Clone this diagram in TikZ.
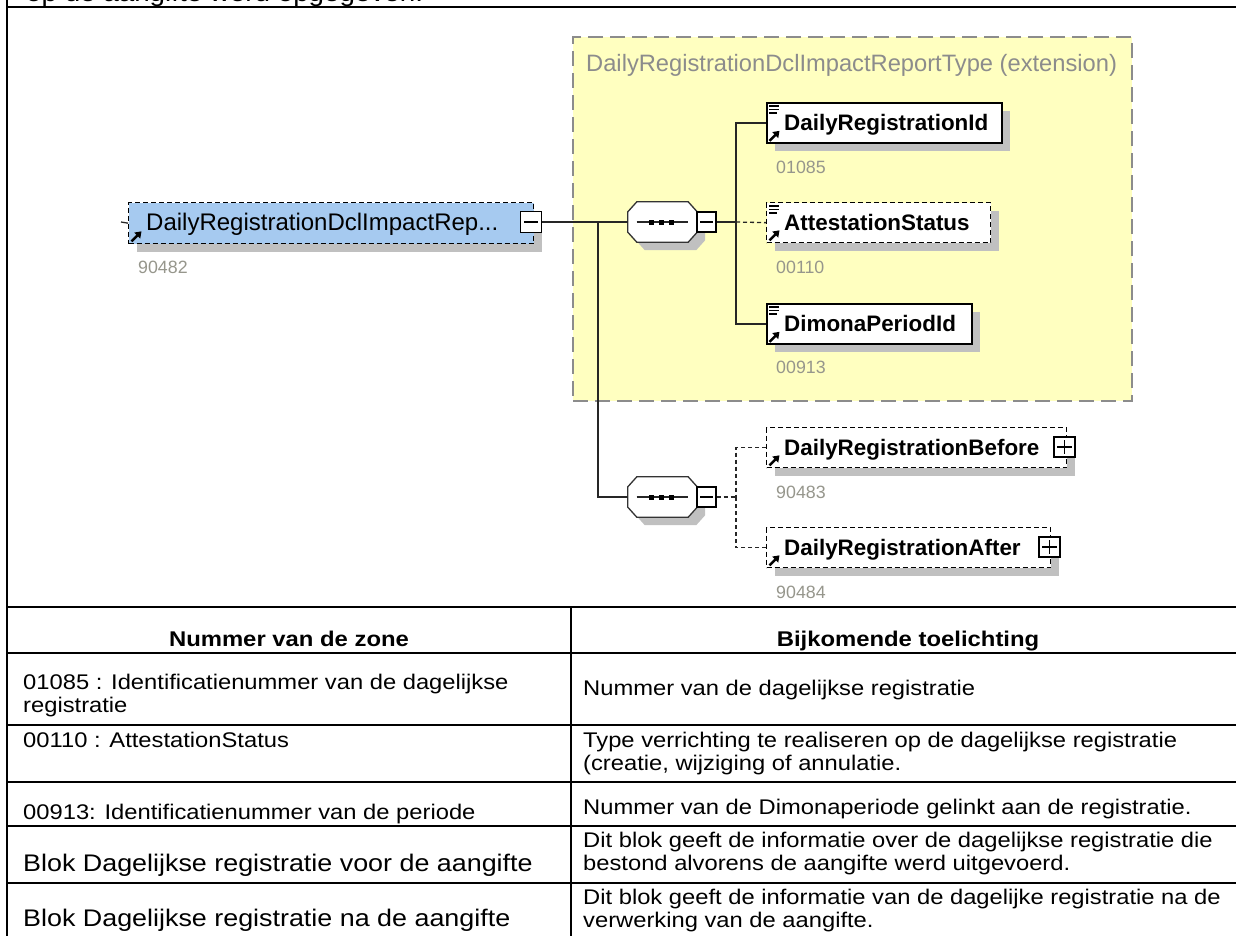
\documentclass[tikz,border=0pt]{standalone}
\usepackage{fontspec}
\setmainfont{Liberation Sans}
\newfontfamily\tabfont[FakeStretch=1.12]{Liberation Sans}
\usetikzlibrary{calc,arrows.meta}
\definecolor{mainblue}{RGB}{166,202,240}
\definecolor{extyellow}{RGB}{255,255,192}
\definecolor{extborder}{RGB}{140,140,140}
\definecolor{shadowgray}{RGB}{192,192,192}
\definecolor{idgray}{RGB}{150,150,140}
\definecolor{titlegray}{RGB}{140,140,140}
\tikzset{
  shad/.style={preaction={fill=shadowgray,draw=none,transform canvas={shift={(8pt,-8pt)}}}},
  box/.style={rectangle,inner sep=0pt,anchor=north west},
  mand/.style={box,draw=black,line width=1.8pt,fill=white,shad},
  opt/.style={box,draw=black,line width=1.3pt,dash pattern=on 5pt off 3pt,fill=white,shad},
  mainbox/.style={box,draw=black,line width=1.3pt,dash pattern=on 5pt off 3pt,fill=mainblue,shad},
  tog/.style={rectangle,draw=black,line width=1.3pt,fill=white,minimum width=19pt,minimum height=20pt,inner sep=0pt},
  togsign/.style={line width=1.3pt,draw=black},
  seqshape/.style={rectangle,draw=none,minimum width=69pt,minimum height=40pt,inner sep=0pt},
  octline/.style={fill=white,draw=black!80,line width=1.3pt},
  conn/.style={line width=1.3pt,draw=black!85},
  optconn/.style={conn,dash pattern=on 4pt off 3pt},
  extbox/.style={box,fill=extyellow,draw=extborder,line width=2pt,dash pattern=on 15pt off 7pt},
  iconline/.style={line width=1.1pt,draw=black},
  refarr/.style={line width=2.4pt,draw=black,-{Triangle[length=6pt,width=8pt]}},
  lbl/.style={font=\fontsize{24}{28}\selectfont,inner sep=0pt,anchor=base west},
  blbl/.style={font=\bfseries\fontsize{22.4}{26}\selectfont,inner sep=0pt,anchor=base west},
  idl/.style={font=\fontsize{17.8}{20}\selectfont,text=idgray,inner sep=0pt,anchor=base west},
  ttl/.style={font=\fontsize{23.7}{27}\selectfont,text=titlegray,inner sep=0pt,anchor=base west},
  tabtxt/.style={font=\tabfont\fontsize{21.2}{24}\selectfont,inner sep=0pt,anchor=base west},
  tabbig/.style={font=\tabfont\fontsize{24}{27}\selectfont,inner sep=0pt,anchor=base west},
  tabhd/.style={font=\tabfont\bfseries\fontsize{21.3}{24}\selectfont,inner sep=0pt,anchor=base},
  toptxt/.style={font=\tabfont\fontsize{24.8}{28}\selectfont,inner sep=0pt,anchor=base west},
  tabline/.style={line width=2pt,draw=black}
}
\newcommand\octo[1]{%
  \fill[shadowgray] ($(#1.north west)+(17,8)$) -- ($(#1.north east)+(-1,8)$) -- ($(#1.north east)+(8,18)$) -- ($(#1.south east)+(8,-2)$) -- ($(#1.south east)+(-1,8)$) -- ($(#1.south west)+(17,8)$) -- ($(#1.south west)+(8,-2)$) -- ($(#1.north west)+(8,18)$) -- cycle;
  \draw[octline] ($(#1.north west)+(9,0)$) -- ($(#1.north east)+(-9,0)$) -- ($(#1.north east)+(0,10)$) -- ($(#1.south east)+(0,-10)$) -- ($(#1.south east)+(-9,0)$) -- ($(#1.south west)+(9,0)$) -- ($(#1.south west)+(0,-10)$) -- ($(#1.north west)+(0,10)$) -- cycle;
  \draw[conn] ($(#1.center)+(-26,0)$) -- ($(#1.center)+(25,0)$);
  \foreach \dx in {-11,-1,9} {\fill ($(#1.center)+(\dx,0)$) +(-2.5,-2.5) rectangle +(2.5,2.5);}
}
\newcommand\simpicon[1]{%
  \draw[iconline] ($(#1.north west)+(3,4)$) -- +(10,0) ($(#1.north west)+(3,7.5)$) -- +(10,0) ($(#1.north west)+(3,11)$) -- +(8,0);
}
\newcommand\refico[1]{%
  \draw[refarr] ($(#1.south west)+(3.5,-3)$) -- ($(#1.south west)+(13.5,-13)$);
}
\newcommand\minussign[1]{\draw[togsign] ($(#1.west)+(4,0)$) -- ($(#1.east)+(-4,0)$);}
\newcommand\plussign[1]{\draw[togsign] ($(#1.west)+(4,0)$) -- ($(#1.east)+(-4,0)$) ($(#1.north)+(0,4)$) -- ($(#1.south)+(0,-4)$);}
\begin{document}
\begin{tikzpicture}[x=1pt,y=-1pt]
\useasboundingbox (0,0) rectangle (1236,935);
\clip (0,0) rectangle (1236,935);
\fill[white] (0,0) rectangle (1236,935);

% cut-off line of text above the frame
\node[toptxt] (toptext) at (26,1.5) {op de aangifte werd opgegeven.};

% extension box
\node[extbox,minimum width=559pt,minimum height=364pt] (ext) at (572,36) {};
\node[ttl] (exttitle) at (586,71.5) {DailyRegistrationDclImpactReportType (extension)};

% main element
\node[mainbox,minimum width=405pt,minimum height=41pt] (main) at (128,202) {};
\node[tog,minimum width=21pt,minimum height=21pt] (mainm) at (531,222) {};
\minussign{mainm}
\refico{main}
\node[lbl] (tmain) at (146,230.8) {DailyRegistrationDclImpactRep...};
\node[idl] (id0) at (138,273.5) {90482};

% sequence compositors
\node[seqshape] (seq1) at (662.5,222) {};
\octo{seq1}
\node[tog] (seq1m) at (706.5,222) {};
\minussign{seq1m}
\node[seqshape] (seq2) at (662.5,497) {};
\octo{seq2}
\node[tog] (seq2m) at (706.5,497) {};
\minussign{seq2m}

% child elements
\node[mand,minimum width=235pt,minimum height=40pt] (dri) at (766,102) {};
\node[opt,minimum width=224pt,minimum height=40pt] (att) at (766,202) {};
\node[mand,minimum width=205pt,minimum height=40pt] (dpi) at (766,303) {};
\node[opt,minimum width=300pt,minimum height=40pt] (bef) at (766,427) {};
\node[opt,minimum width=284pt,minimum height=40pt] (aft) at (766,527) {};
\node[tog,minimum width=21pt] (befp) at (1064.5,447) {};
\plussign{befp}
\node[tog,minimum width=21pt] (aftp) at (1049.5,547) {};
\plussign{aftp}
\simpicon{dri}\refico{dri}
\simpicon{att}\refico{att}
\simpicon{dpi}\refico{dpi}
\refico{bef}
\refico{aft}

\node[blbl] (tdri) at (784,130) {DailyRegistrationId};
\node[blbl] (tatt) at (784,230) {AttestationStatus};
\node[blbl] (tdpi) at (784,331) {DimonaPeriodId};
\node[blbl] (tbef) at (784,455) {DailyRegistrationBefore};
\node[blbl] (taft) at (784,555) {DailyRegistrationAfter};
\node[idl] (id1) at (776,173.5) {01085};
\node[idl] (id2) at (776,273.5) {00110};
\node[idl] (id3) at (776,373.5) {00913};
\node[idl] (id4) at (776,498.5) {90483};
\node[idl] (id5) at (776,598.5) {90484};

% connectors
\coordinate (mtick) at (121,222);
\coordinate (j1) at (598,222);
\coordinate (b1) at (736,222);
\coordinate (b2) at (736,497);
\draw[conn] (mtick) -- (main.west);
\draw[conn] (mainm.east) -- (seq1.west);
\draw[conn] (j1) |- (seq2.west);
\draw[conn] (seq1m.east) -- (b1);
\draw[conn] (dri.west) -| (b1);
\draw[conn] (dpi.west) -| (b1);
\draw[optconn] (b1) -- (att.west);
\draw[optconn] (seq2m.east) -- (b2);
\draw[optconn] (bef.west) -| (b2);
\draw[optconn] (aft.west) -| (b2);

% frame and table
\draw[tabline] (7,-2) -- (7,940);
\draw[tabline] (6,7) -- (1240,7);
\foreach \yy in {607,653,725,782,826,883} {\draw[tabline] (6,\yy) -- (1240,\yy);}
\draw[tabline] (571,607) -- (571,940);

\node[tabhd] (h1) at (289,646) {Nummer van de zone};
\node[tabhd] (h2) at (908,646) {Bijkomende toelichting};

\node[tabtxt] (l1a) at (23,689.5) {01085 : Identificatienummer van de dagelijkse};
\node[tabtxt] (l1b) at (23,712.5) {registratie};
\node[tabtxt] (r1a) at (583,695.5) {Nummer van de dagelijkse registratie};

\node[tabtxt] (l2a) at (23,747.5) {00110 : AttestationStatus};
\node[tabtxt] (r2a) at (583,747.5) {Type verrichting te realiseren op de dagelijkse registratie};
\node[tabtxt] (r2b) at (583,770.5) {(creatie, wijziging of annulatie.};

\node[tabtxt] (l3a) at (23,819.5) {00913: Identificatienummer van de periode};
\node[tabtxt] (r3a) at (583,814.5) {Nummer van de Dimonaperiode gelinkt aan de registratie.};

\node[tabbig] (l4a) at (23,871.5) {Blok Dagelijkse registratie voor de aangifte};
\node[tabtxt] (r4a) at (583,847.5) {Dit blok geeft de informatie over de dagelijkse registratie die};
\node[tabtxt] (r4b) at (583,870.5) {bestond alvorens de aangifte werd uitgevoerd.};

\node[tabbig] (l5a) at (23,926.5) {Blok Dagelijkse registratie na de aangifte};
\node[tabtxt] (r5a) at (583,904.5) {Dit blok geeft de informatie van de dagelijke registratie na de};
\node[tabtxt] (r5b) at (583,927.5) {verwerking van de aangifte.};
\end{tikzpicture}
\end{document}
